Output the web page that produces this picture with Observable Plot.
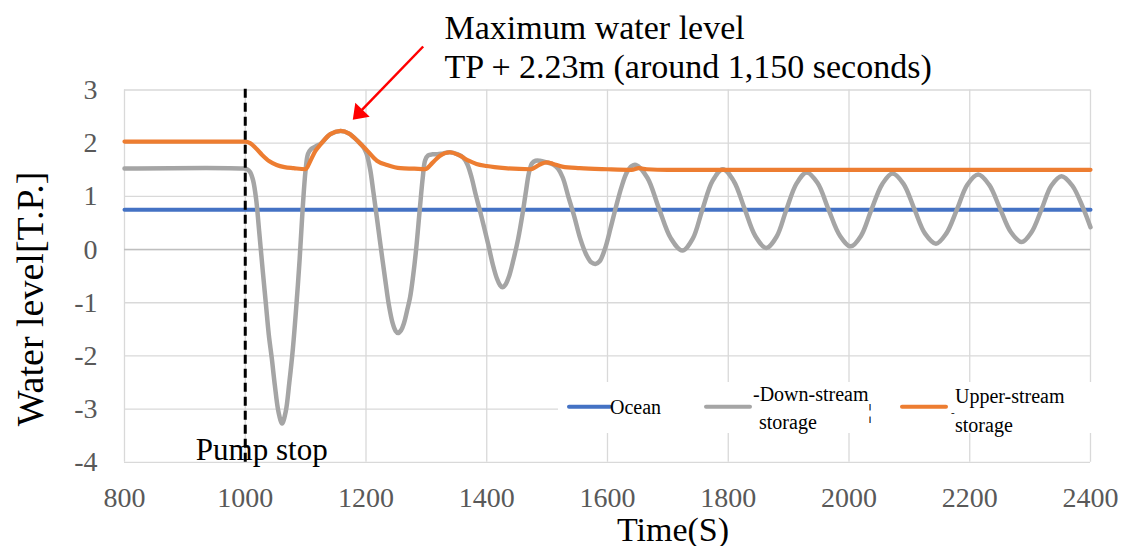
<!DOCTYPE html>
<html>
<head>
<meta charset="utf-8">
<script src="https://cdn.jsdelivr.net/npm/d3@7"></script>
<script src="https://cdn.jsdelivr.net/npm/@observablehq/plot@0.6"></script>
<style>
  html, body { margin: 0; padding: 0; background: #fff; }
  #wrap { position: relative; width: 1124px; height: 546px; }
  #wrap svg text { font-family: "Liberation Serif", "Times New Roman", serif; }
</style>
</head>
<body>
<div id="wrap"></div>
<script>
// ---- data ----
const xTicks = [800, 1000, 1200, 1400, 1600, 1800, 2000, 2200, 2400];
const yTicks = [-4, -3, -2, -1, 0, 1, 2, 3];

const seriesNames = ["Ocean", "Down-stream storage", "Upper-stream storage"];
const seriesColors = ["#4472C4", "#A5A5A5", "#ED7D31"];

const oceanTime = [800, 2400];
const oceanLevel = [0.75, 0.75];

const downTime = [800, 995, 1003, 1008, 1013, 1018, 1023, 1029, 1034, 1039,
  1044, 1049, 1055, 1061, 1067, 1073, 1079, 1085, 1090, 1095,
  1100, 1104, 1109, 1115, 1120, 1125, 1141, 1158, 1172, 1188,
  1196, 1201, 1207, 1212, 1218, 1225, 1232, 1238, 1244, 1249,
  1253, 1258, 1263, 1268, 1273, 1278, 1283, 1289, 1294, 1298,
  1303, 1310, 1318, 1325, 1339, 1352, 1361, 1368, 1375, 1382,
  1389, 1396, 1403, 1410, 1417, 1422, 1426, 1431, 1437, 1444,
  1452, 1459, 1465, 1470, 1475, 1481, 1488, 1499, 1510, 1518,
  1526, 1535, 1545, 1555, 1565, 1573, 1580, 1587, 1596, 1605,
  1614, 1623, 1632, 1640, 1647, 1666, 1685, 1705, 1724, 1741,
  1757, 1774, 1791, 1809, 1827, 1845, 1863, 1880, 1896, 1913,
  1930, 1948, 1966, 1985, 2003, 2020, 2037, 2055, 2072, 2090,
  2108, 2126, 2144, 2161, 2179, 2196, 2214, 2232, 2250, 2268,
  2286, 2302, 2319, 2335, 2352, 2370, 2388, 2400];
const downLevel = [1.525, 1.525, 1.51, 1.46, 1.3, 0.95, 0.35, -0.4, -1.0, -1.6,
  -2.05, -2.55, -3.05, -3.27, -3.05, -2.5, -1.85, -1.0, -0.2, 0.75,
  1.5, 1.8, 1.89, 1.93, 1.96, 1.99, 2.17, 2.23, 2.18, 2.02,
  1.92, 1.8, 1.5, 1.1, 0.6, 0.0, -0.58, -1.05, -1.38, -1.53,
  -1.57, -1.52, -1.38, -1.15, -0.9, -0.5, 0.0, 0.75, 1.35, 1.68,
  1.77, 1.79, 1.79, 1.8, 1.83, 1.79, 1.73, 1.6, 1.35, 1.02,
  0.72, 0.4, 0.07, -0.28, -0.55, -0.67, -0.71, -0.66, -0.5, -0.2,
  0.2, 0.65, 1.1, 1.45, 1.62, 1.67, 1.67, 1.64, 1.6, 1.52,
  1.35, 1.0, 0.62, 0.2, -0.1, -0.24, -0.27, -0.22, 0.02, 0.4,
  0.8, 1.17, 1.45, 1.57, 1.59, 1.35, 0.78, 0.21, -0.02, 0.2,
  0.745, 1.29, 1.51, 1.29, 0.77, 0.25, 0.03, 0.24, 0.74, 1.24,
  1.45, 1.25, 0.755, 0.26, 0.06, 0.26, 0.745, 1.23, 1.43, 1.24,
  0.77, 0.3, 0.11, 0.3, 0.76, 1.22, 1.41, 1.22, 0.775, 0.33,
  0.14, 0.32, 0.76, 1.2, 1.38, 1.2, 0.775, 0.42];

const upTime = [800, 1000, 1008, 1018, 1028, 1040, 1052, 1065, 1080, 1100,
  1108, 1116, 1125, 1141, 1158, 1172, 1188, 1202, 1218, 1235,
  1257, 1280, 1298, 1310, 1322, 1339, 1355, 1370, 1383, 1400,
  1430, 1472, 1488, 1499, 1510, 1525, 1554, 1600, 1640, 1652,
  1665, 1700, 2400];
const upLevel = [2.03, 2.03, 2.0, 1.9, 1.78, 1.66, 1.59, 1.55, 1.53, 1.51,
  1.67, 1.85, 1.98, 2.17, 2.23, 2.18, 2.02, 1.86, 1.67, 1.59,
  1.53, 1.52, 1.51, 1.63, 1.76, 1.83, 1.77, 1.67, 1.61, 1.57,
  1.53, 1.51, 1.6, 1.64, 1.61, 1.56, 1.53, 1.51, 1.5, 1.53,
  1.51, 1.5, 1.5];

const pumpStop = [{t: 1000, v: -4, label: "Pump stop"}];
const annotationLines = "Maximum water level\nTP + 2.23m (around 1,150 seconds)";
// arrow from text toward the maximum (data coordinates)
const arrowLine = [{t1: 1294.7, v1: 3.818, t2: 1193.3, v2: 2.627}];
const arrowTip = [{t: 1178.1, v: 2.44}];

const yTitle = "Water level[T.P.]";
const xTitle = "Time(S)";

// ---- build ----
const toRows = (ts, vs) => ts.map((t, i) => ({t, v: vs[i]}));
const ocean = toRows(oceanTime, oceanLevel);
const down = toRows(downTime, downLevel);
const up = toRows(upTime, upLevel);

const serif = "Liberation Serif, Times New Roman, serif";
const arrowHead = {
  draw(ctx) {
    ctx.moveTo(0, 0);
    ctx.lineTo(-10, 14);
    ctx.lineTo(10, 14);
    ctx.closePath();
  }
};

const svg = Plot.plot({
  width: 1124,
  height: 546,
  marginLeft: 124,
  marginRight: 34,
  marginTop: 89.5,
  marginBottom: 84.2,
  style: {fontFamily: serif, background: "white", overflow: "visible"},
  x: {domain: [800, 2400]},
  y: {domain: [-4, 3]},
  marks: [
    Plot.gridX(xTicks, {stroke: "#d9d9d9", strokeOpacity: 1, strokeWidth: 1.3}),
    Plot.gridY(yTicks, {stroke: "#d9d9d9", strokeOpacity: 1, strokeWidth: 1.3}),
    Plot.ruleY([0], {stroke: "#bfbfbf", strokeWidth: 1.5}),
    Plot.axisX(xTicks, {tickSize: 0, tickPadding: 25, fontSize: 28, fontFamily: serif, color: "#595959", fill: "#595959", label: null, tickFormat: d => String(d)}),
    Plot.axisY(yTicks, {tickSize: 0, tickPadding: 27, fontSize: 28, fontFamily: serif, color: "#595959", fill: "#595959", label: null, tickFormat: d => String(d)}),
    Plot.line(ocean, {x: "t", y: "v", stroke: seriesColors[0], strokeWidth: 4}),
    Plot.line(down, {x: "t", y: "v", stroke: seriesColors[1], strokeWidth: 4.5, curve: "catmull-rom"}),
    Plot.line(up, {x: "t", y: "v", stroke: seriesColors[2], strokeWidth: 4.2, curve: "monotone-x"}),
    Plot.ruleX(pumpStop, {x: "t", y1: -4, y2: 3.03, stroke: "black", strokeWidth: 3, strokeDasharray: "9,5"}),
    Plot.text(pumpStop, {x: "t", y: "v", text: "label", dx: 16.5, dy: -2.5, lineAnchor: "bottom", textAnchor: "middle", fontSize: 31, fontFamily: serif, fill: "black"}),
    Plot.link(arrowLine, {x1: "t1", y1: "v1", x2: "t2", y2: "v2", stroke: "#FF0000", strokeWidth: 2.5}),
    Plot.dot(arrowTip, {x: "t", y: "v", symbol: arrowHead, fill: "#FF0000", stroke: "none", rotate: 224, r: 8}),
    Plot.text([annotationLines], {text: d => d, frameAnchor: "top-left", dx: 320, dy: -12.2, lineAnchor: "bottom", textAnchor: "start", lineHeight: 1.147, fontSize: 34, fontFamily: serif, fill: "black"}),
    Plot.text([yTitle], {text: d => d, frameAnchor: "left", dx: -82, dy: 22.7, rotate: -90, textAnchor: "middle", lineAnchor: "bottom", fontSize: 38, fontFamily: serif, fill: "black"}),
    Plot.text([xTitle], {text: d => d, frameAnchor: "bottom", dx: 65.5, dy: 78.9, textAnchor: "middle", lineAnchor: "bottom", fontSize: 34, fontFamily: serif, fill: "black"})
  ]
});

// ---- legend (inside plot area, lower right) ----
const g = d3.select(svg).append("g")
  .attr("text-anchor", "start")
  .style("font-family", serif)
  .style("font-size", "20px")
  .attr("fill", "black");
g.append("rect").attr("x", 558).attr("y", 382).attr("width", 535).attr("height", 51).attr("fill", "white");
const legendItems = [
  {x1: 569, x2: 610, lines: [{x: 610, y: 414, s: "Ocean"}]},
  {x1: 706, x2: 750, lines: [{x: 753, y: 400.7, s: "-Down-stream"}, {x: 759, y: 429, s: "storage"}, {x: 868, y: 418, s: "¦"}]},
  {x1: 902, x2: 946, lines: [{x: 955, y: 402.7, s: "Upper-stream"}, {x: 951, y: 416, s: "-", small: true}, {x: 955, y: 431.7, s: "storage"}]}
];
legendItems.forEach((it, i) => {
  g.append("line").attr("x1", it.x1).attr("x2", it.x2).attr("y1", 406.7).attr("y2", 406.7)
    .attr("stroke", seriesColors[i]).attr("stroke-width", 4).attr("stroke-linecap", "round");
  it.lines.forEach(l => {
    const t = g.append("text").attr("x", l.x).attr("y", l.y).text(l.s);
    if (l.small) t.style("font-size", "11px");
  });
});

document.getElementById("wrap").appendChild(svg);
</script>
</body>
</html>
